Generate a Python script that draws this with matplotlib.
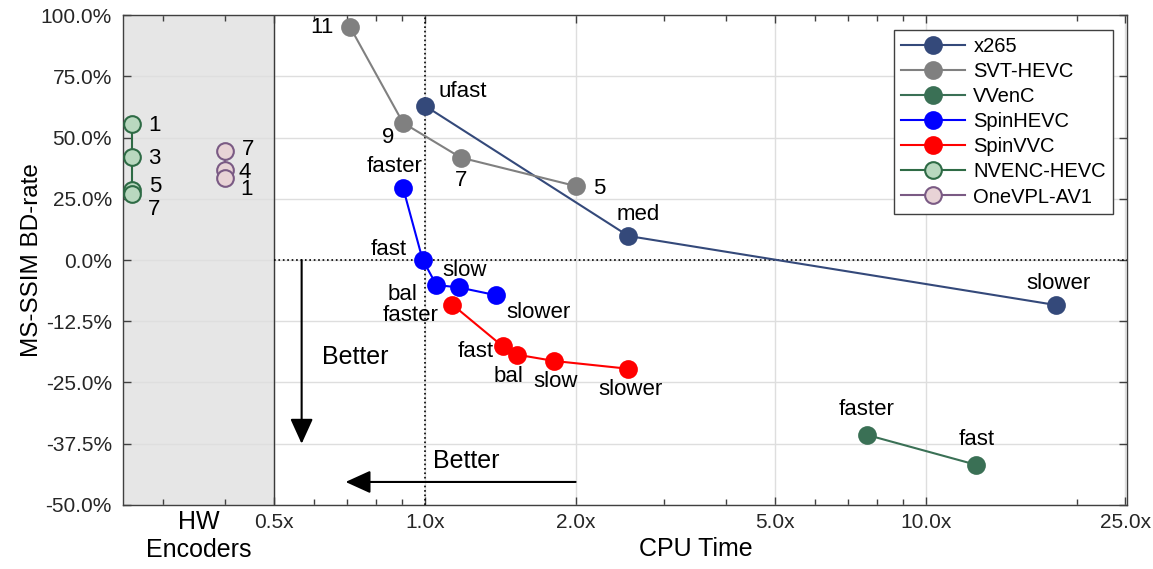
import matplotlib
matplotlib.use('Agg')
import matplotlib.pyplot as plt
import matplotlib.transforms as mtransforms
import numpy as np

plt.rcParams['font.family'] = ['Liberation Sans', 'DejaVu Sans']

# CPU time (x, relative to x265 ufast) and MS-SSIM BD-rate (%)
x265_x = [1.0, 2.55, 18.2]
x265_y = [63.0, 9.8, -9.2]
x265_lbl = ['ufast', 'med', 'slower']

svt_x = [0.71, 0.905, 1.18, 2.0]
svt_y = [95.0, 56.0, 41.8, 30.2]
svt_lbl = ['11', '9', '7', '5']

vvenc_x = [7.63, 12.6]
vvenc_y = [-35.7, -41.8]
vvenc_lbl = ['faster', 'fast']

spinhevc_x = [0.905, 0.99, 1.055, 1.17, 1.39]
spinhevc_y = [29.5, 0.2, -5.1, -5.6, -7.2]
spinhevc_lbl = ['faster', 'fast', 'bal', 'slow', 'slower']

spinvvc_x = [1.135, 1.43, 1.525, 1.81, 2.55]
spinvvc_y = [-9.1, -17.6, -19.3, -20.6, -22.2]
spinvvc_lbl = ['faster', 'fast', 'bal', 'slow', 'slower']

# hardware encoders are placed inside the grey band
nvenc_x = [0.26, 0.26, 0.26, 0.26]
nvenc_y = [55.5, 42.2, 28.5, 27.0]
nvenc_lbl = ['1', '3', '5', '7']

onevpl_x = [0.4, 0.4, 0.4]
onevpl_y = [44.4, 36.8, 33.5]
onevpl_lbl = ['7', '4', '1']

xticks = [0.5, 1.0, 2.0, 5.0, 10.0, 25.0]
yticks = [100, 75, 50, 25, 0, -12.5, -25, -37.5, -50]


def fwd(y):
    y = np.asarray(y, dtype=float)
    return np.where(y > 0, y / 2.0, y)


def inv(y):
    y = np.asarray(y, dtype=float)
    return np.where(y > 0, y * 2.0, y)


fig = plt.figure(figsize=(11.53, 5.69), dpi=100)
ax = fig.add_axes([0.1067, 0.1125, 0.8708, 0.8611])
ax.set_xscale('log')
ax.set_yscale('function', functions=(fwd, inv))
ax.set_xlim(0.25, 25.2)
ax.set_ylim(-50, 100)

ax.axvspan(0.25, 0.5, color='#e6e6e6', zorder=0.2, lw=0)
ax.grid(True, which='major', color='#dedede', lw=1.0, zorder=0.3)
ax.set_axisbelow(True)
ax.axvline(0.5, color='#3a3a3a', lw=1.0, zorder=1)
ax.axvline(1.0, color='black', lw=1.2, ls=':', zorder=1)
ax.hlines(0, 0.5, ax.get_xlim()[1], colors='black', lw=1.2, linestyles=':', zorder=1)

series = [
    ('x265', x265_x, x265_y, x265_lbl, '#34497a', '#34497a',
     [(38, 14), (10, 21), (2, 22)]),
    ('SVT-HEVC', svt_x, svt_y, svt_lbl, '#808080', '#808080',
     [(-28, 0), (-15, -15), (0, -23), (24, -2)]),
    ('VVenC', vvenc_x, vvenc_y, vvenc_lbl, '#3a7055', '#3a7055',
     [(0, 25), (0, 25)]),
    ('SpinHEVC', spinhevc_x, spinhevc_y, spinhevc_lbl, '#0000ff', '#0000ff',
     [(-8, 21), (-34, 10), (-34, -10), (6, 17), (42, -17)]),
    ('SpinVVC', spinvvc_x, spinvvc_y, spinvvc_lbl, '#ff0000', '#ff0000',
     [(-42, -11), (-27, -5), (-8, -22), (2, -21), (2, -21)]),
    ('NVENC-HEVC', nvenc_x, nvenc_y, nvenc_lbl, '#2e6b45', '#b9d8bf',
     [(23, -1), (23, -2), (24, 4), (23, -16)]),
    ('OneVPL-AV1', onevpl_x, onevpl_y, onevpl_lbl, '#7a5a84', '#e8d3d6',
     [(23, 2), (19, -3), (21, -12)]),
]

for name, xs, ys, lbls, col, face, offs in series:
    ax.plot(xs, ys, '-o', color=col, lw=1.5, ms=12, mfc=face, mec=col,
            mew=1.5, label=name, zorder=3)
    for xv, yv, t, off in zip(xs, ys, lbls, offs):
        ax.annotate(t, (xv, yv), xytext=off, textcoords='offset pixels',
                    ha='center', va='center', fontsize=16, zorder=4)

# "Better" arrows
arrow = dict(arrowstyle='-|>,head_length=0.55,head_width=0.25', color='black',
             lw=1.5, mutation_scale=28, shrinkA=0, shrinkB=0)
ax.annotate('', xy=(0.568, -37.5), xytext=(0.568, 0), arrowprops=arrow)
ax.text(0.725, -19.8, 'Better', fontsize=18, ha='center', va='center')
ax.annotate('', xy=(0.695, -45.3), xytext=(2.0, -45.3), arrowprops=arrow)
ax.text(1.21, -41.0, 'Better', fontsize=18, ha='center', va='center')

ax.set_xticks(xticks)
ax.set_xticklabels([f'{v:.1f}x' for v in xticks])
ax.set_xticks([0.3, 0.4, 0.6, 0.7, 0.8, 0.9, 3, 4, 6, 7, 8, 9, 20], minor=True)
ax.xaxis.set_minor_formatter(matplotlib.ticker.NullFormatter())
ax.set_yticks(yticks)
ax.set_yticklabels([f'{v:.1f}%' for v in yticks])
ax.yaxis.set_minor_locator(matplotlib.ticker.NullLocator())
ax.tick_params(which='both', direction='in', top=True, right=True,
               colors='#404040', labelcolor='#262626', labelsize=15)
ax.tick_params(axis='x', which='major', pad=6)
ax.tick_params(axis='y', which='major', pad=8)
ax.tick_params(which='major', length=6, width=1)
ax.tick_params(which='minor', length=4, width=1)
for s in ax.spines.values():
    s.set_color('#404040')
    s.set_linewidth(1.0)

ax.set_ylabel('MS-SSIM BD-rate', fontsize=17.5)
ax.yaxis.set_label_coords(-0.08, 0.5)
ax.set_xlabel('CPU Time', fontsize=18, va='top')
ax.xaxis.set_label_coords(0.57, -0.066)
blend = mtransforms.blended_transform_factory(ax.transData, ax.transAxes)
ax.text(0.3536, -0.064, 'HW\nEncoders', transform=blend, fontsize=18,
        ha='center', va='center', linespacing=1.2, clip_on=False)

leg = ax.legend(loc='upper right', bbox_to_anchor=(0.986, 0.969), fontsize=14.5,
                fancybox=False, edgecolor='#404040', framealpha=1,
                handlelength=3.2, borderpad=0.35, labelspacing=0.3,
                handletextpad=0.4, borderaxespad=0)
leg.get_frame().set_linewidth(1.0)

fig.savefig('out.png', dpi=100)
